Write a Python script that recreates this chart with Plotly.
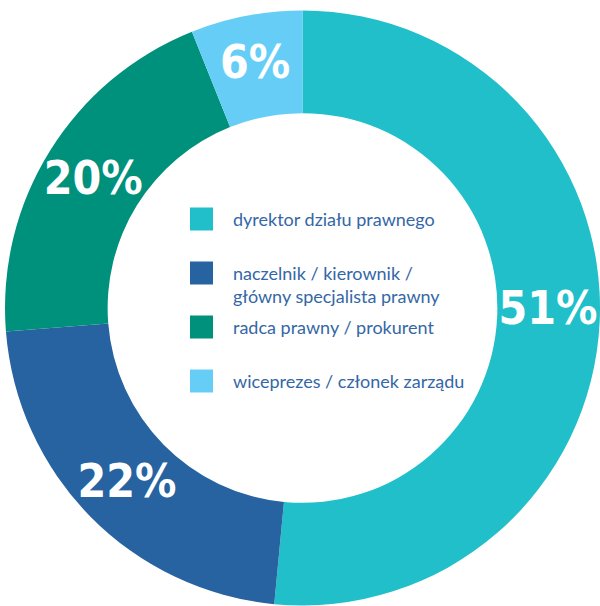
import plotly.graph_objects as go

labels = ["dyrektor działu prawnego",
          "naczelnik / kierownik /<br>główny specjalista prawny",
          "radca prawny / prokurent",
          "wiceprezes / członek zarządu"]
values = [51, 22, 20, 6]
colors = ["#21BFC9", "#2763A0", "#00917D", "#66CEF6"]

W, H = 600, 606

fig = go.Figure(go.Pie(
    labels=labels,
    values=values,
    sort=False,
    direction="clockwise",
    rotation=0,
    hole=0.655,
    marker=dict(colors=colors, line=dict(width=0)),
    texttemplate="%{value}%",
    textposition="inside",
    insidetextorientation="horizontal",
    textfont=dict(family="DejaVu Sans Condensed", size=46, color="white", weight="bold"),
    showlegend=False,
    domain=dict(x=[5 / W, 1], y=[0, 1 - 10 / H]),
))

# legend drawn in the hole
leg_top = 219
leg_step = 54
sq = 23
shapes, annotations = [], []
for i, (lab, col) in enumerate(zip(labels, colors)):
    yc = leg_top + i * leg_step
    shapes.append(dict(type="rect", xref="paper", yref="paper",
                       x0=190 / W, x1=(190 + sq) / W,
                       y0=1 - (yc - sq / 2) / H, y1=1 - (yc + sq / 2) / H,
                       fillcolor=col, line=dict(width=0)))
    annotations.append(dict(xref="paper", yref="paper", x=231 / W, y=1 - (yc - 13) / H,
                            xanchor="left", yanchor="top", align="left",
                            text=lab, showarrow=False,
                            font=dict(family="Lato", size=18, color="#3467A6")))

fig.update_layout(
    width=W, height=H,
    margin=dict(l=0, r=0, t=0, b=0),
    paper_bgcolor="white", plot_bgcolor="white",
    uniformtext=dict(minsize=46, mode="show"),
    shapes=shapes, annotations=annotations,
)

fig.write_html("out.html")
